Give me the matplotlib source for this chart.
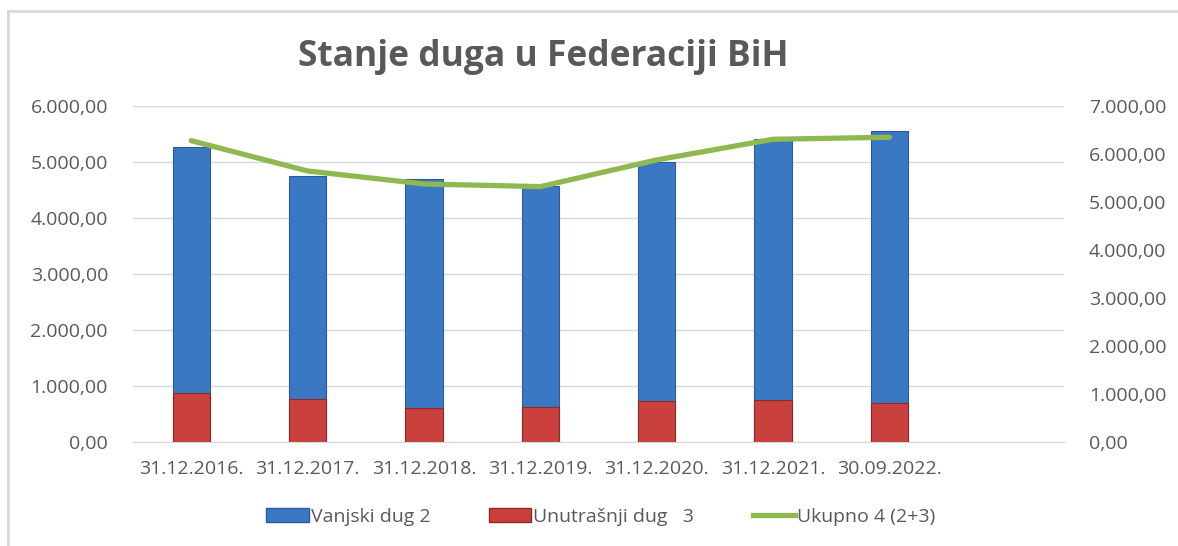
import matplotlib.pyplot as plt
from matplotlib.lines import Line2D
from matplotlib.ticker import FuncFormatter

plt.rcParams["font.family"] = ["Open Sans", "DejaVu Sans"]

dates = ["31.12.2016.", "31.12.2017.", "31.12.2018.", "31.12.2019.",
         "31.12.2020.", "31.12.2021.", "30.09.2022."]
vanjski = [5268, 4743, 4702, 4564, 4993, 5411, 5547]
unutrasnji = [875, 768, 607, 625, 743, 755, 707]
ukupno = [6278, 5647, 5377, 5321, 5877, 6307, 6349]

BLUE = "#3b78c4"
RED = "#c9403d"
GREEN = "#8fb950"
GREY = "#595959"


def fmt(v, pos):
    s = f"{v:,.2f}"
    return s.replace(",", " ").replace(".", ",").replace(" ", ".")


fig = plt.figure(figsize=(11.78, 5.46), dpi=100)
ax = fig.add_axes([0.1129, 0.19, 0.7903, 0.6159])
ax2 = ax.twinx()

x = list(range(len(dates)))

# bars overlap: internal debt drawn in front of external debt
ax.bar(x, vanjski, width=0.32, color=BLUE, edgecolor="#2c5c96", linewidth=0.8, zorder=2)
ax.bar(x, unutrasnji, width=0.32, color=RED, edgecolor="#8e2a28", linewidth=0.8, zorder=3)

ax2.plot(x, ukupno, color=GREEN, linewidth=3.8, solid_capstyle="round", zorder=4)

ax.set_xlim(-0.5, 7.5)
ax.set_ylim(0, 6000)
ax2.set_ylim(0, 7000)
ax.set_yticks(range(0, 6001, 1000))
ax2.set_yticks(range(0, 7001, 1000))
ax.yaxis.set_major_formatter(FuncFormatter(fmt))
ax2.yaxis.set_major_formatter(FuncFormatter(fmt))

ax.set_xticks(list(range(8)))
ax.set_xticklabels(dates + [""])

ax.grid(axis="y", color="#d9d9d9", linewidth=1.0, zorder=0)
ax.set_axisbelow(True)

for a in (ax, ax2):
    for side in ("top", "left", "right"):
        a.spines[side].set_visible(False)
    a.spines["bottom"].set_color("#d9d9d9")
    a.tick_params(length=0, colors=GREY, labelsize=14)
ax.tick_params(axis="y", pad=18)
ax2.tick_params(axis="y", pad=18)
ax.tick_params(axis="x", pad=13)

ax2.set_zorder(ax.get_zorder() + 1)
ax2.patch.set_visible(False)

fig.text(0.461, 0.895, "Stanje duga u Federaciji BiH", ha="center", va="center",
         fontsize=25.5, fontweight="bold", color=GREY)

handles = [
    plt.Rectangle((0, 0), 1, 1, facecolor=BLUE, edgecolor="#2c5c96"),
    plt.Rectangle((0, 0), 1, 1, facecolor=RED, edgecolor="#8e2a28"),
    Line2D([0], [0], color=GREEN, linewidth=3.8),
]
labels = ["Vanjski dug 2", "Unutrašnji dug   3", "Ukupno 4 (2+3)"]
fig.legend(handles, labels, loc="center", bbox_to_anchor=(0.51, 0.053), ncol=3,
           frameon=False, fontsize=14, labelcolor=GREY, handlelength=2.2,
           handletextpad=0.1, columnspacing=3.0)

# chart frame
fig.add_artist(Line2D([8 / 1178, 1.0], [1 - 11 / 546, 1 - 11 / 546],
                      transform=fig.transFigure, color="#d9d9d9", linewidth=2))
fig.add_artist(Line2D([8 / 1178, 8 / 1178], [0, 1 - 11 / 546],
                      transform=fig.transFigure, color="#d9d9d9", linewidth=2))

fig.savefig("out.png", dpi=100)
